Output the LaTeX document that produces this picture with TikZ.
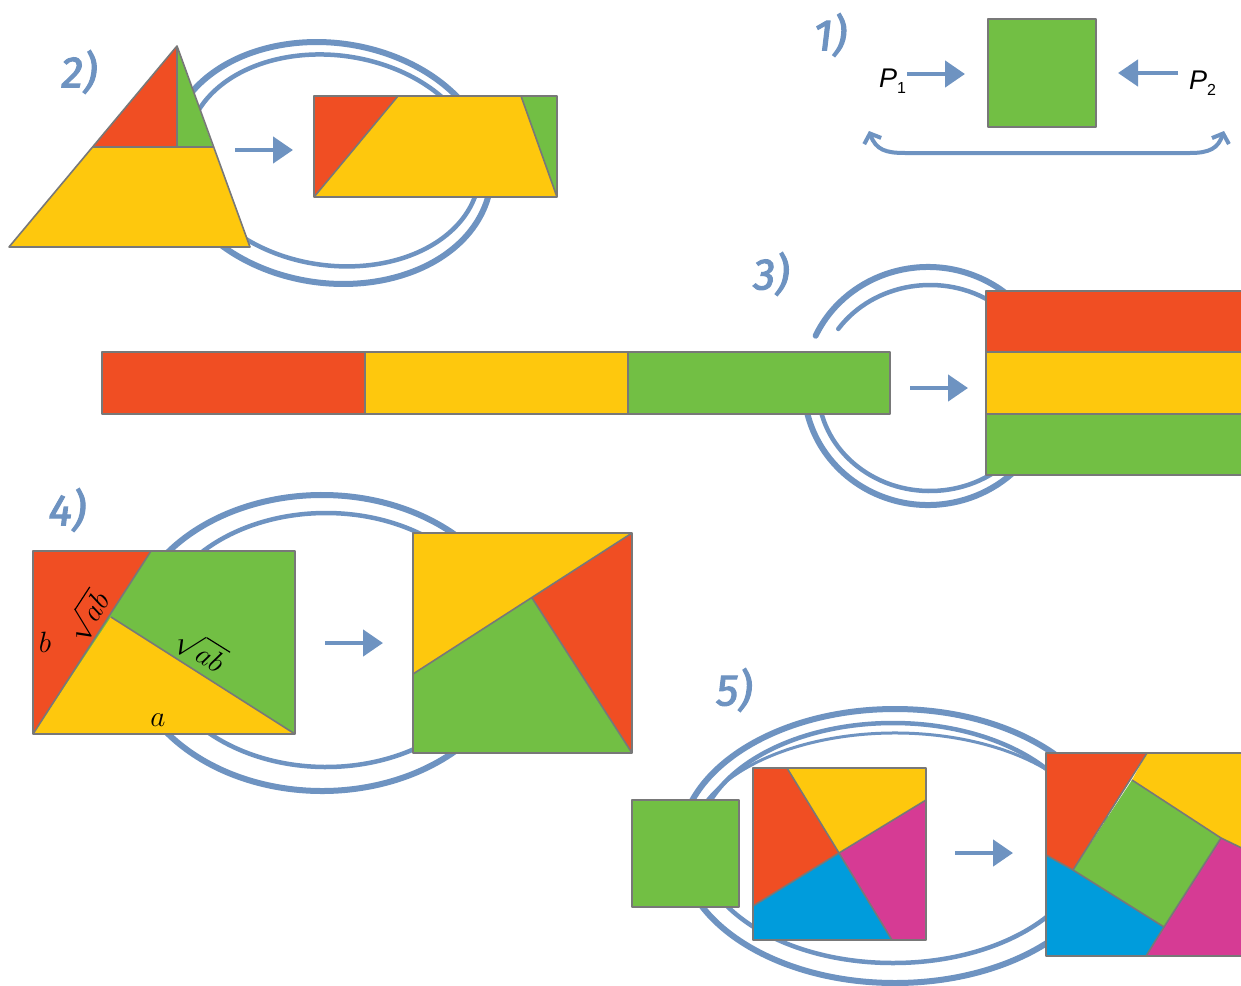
\documentclass[tikz,border=0pt]{standalone}
\usepackage{fontspec}
\newfontfamily\arialf{Liberation Sans}
\newfontfamily\lblf[FakeBold=2.5,FakeSlant=0.12]{Fira Sans}
\usetikzlibrary{arrows.meta}
\definecolor{cred}{HTML}{F04E23}
\definecolor{cyel}{HTML}{FEC80D}
\definecolor{cgrn}{HTML}{72BF44}
\definecolor{cblu}{HTML}{009CDC}
\definecolor{cmag}{HTML}{D63B94}
\definecolor{stroke}{HTML}{6E93C1}
\definecolor{edge}{HTML}{787878}
\begin{document}
\begin{tikzpicture}[x=1pt,y=-1pt,
  piece/.style={draw=edge,line width=1.6pt,line join=round},
  loopA/.style={draw=stroke,line width=6pt,line cap=round},
  loopB/.style={draw=stroke,line width=4.5pt,line cap=round},
  fat/.style={draw=stroke,line width=4.5pt,-{Triangle[length=20pt,width=26pt]}},
  barb/.style={draw=stroke,line width=4pt,{Straight Barb[length=8pt,width=18pt]}-{Straight Barb[length=8pt,width=18pt]}},
  lbl/.style={text=stroke,font=\lblf\fontsize{44}{44}\selectfont,inner sep=0pt},
  pl/.style={font=\arialf\fontsize{27}{27}\selectfont,inner sep=0pt},
  mth/.style={font=\fontsize{24}{24}\selectfont,inner sep=0pt,scale=1.18}]
\useasboundingbox (0,0) rectangle (1241,985);
\fill[white] (0,0) rectangle (1241,985);

% ---------- loops (behind shapes) ----------
% section 2
\begin{scope}[rotate around={-8:(330,163)}]
\draw[loopA] (330,163) ++(196:162 and 120) arc[start angle=196,end angle=500,x radius=162,y radius=120];
\draw[loopB] (333,160) ++(193:147 and 105) arc[start angle=193,end angle=488,x radius=147,y radius=105];
\end{scope}
% section 3
\draw[loopA] (928,386) ++(205:124 and 119) arc[start angle=205,end angle=530,x radius=124,y radius=119];
\draw[loopB] (930,388) ++(215:112 and 103) arc[start angle=215,end angle=530,x radius=112,y radius=103];
% section 4
\draw[loopA] (322,643) ++(215:195 and 148) arc[start angle=215,end angle=505,x radius=195,y radius=148];
\draw[loopB] (326,640) ++(222:172 and 127) arc[start angle=222,end angle=495,x radius=172,y radius=127];
% section 5
\draw[loopA] (895,846) ellipse[x radius=215,y radius=137];
\draw[loopB] (893,843) ellipse[x radius=195,y radius=120];
\draw[draw=stroke,line width=3pt,line cap=round] (895,845) ++(200:205 and 112) arc[start angle=200,end angle=335,x radius=205,y radius=112];

% ---------- labels ----------
\node[lbl] (l1) at (829,35) {1)};
\node[lbl] (l2) at (78,72) {2)};
\node[lbl] (l3) at (770,274) {3)};
\node[lbl] (l4) at (66,510) {4)};
\node[lbl] (l5) at (733,690) {5)};

% ---------- section 1 ----------
\fill[cgrn] (988,19) rectangle (1096,127);
\draw[piece] (988,19) rectangle (1096,127);
\node[pl,anchor=base west] (p1) at (879,87) {\itshape P\upshape\raisebox{-6pt}{\fontsize{16}{16}\selectfont 1}};
\node[pl,anchor=base west] (p2) at (1189,89) {\itshape P\upshape\raisebox{-6pt}{\fontsize{16}{16}\selectfont 2}};
\coordinate (a1s) at (907,74); \coordinate (a1e) at (965,74);
\coordinate (a2s) at (1178,73); \coordinate (a2e) at (1118,73);
\draw[fat] (a1s) -- (a1e);
\draw[fat] (a2s) -- (a2e);
\coordinate (bl) at (869,131); \coordinate (br) at (1224,131);
\draw[barb] (bl) .. controls (876,150) and (886,153) .. (905,153) -- (1190,153) .. controls (1210,153) and (1218,148) .. (br);

% ---------- section 2 ----------
\fill[cyel] (93,147) -- (213,147) -- (250,247) -- (9,247) -- cycle;
\fill[cred] (177,46) -- (93,147) -- (177,147) -- cycle;
\fill[cgrn] (177,46) -- (177,147) -- (213,147) -- cycle;
\draw[piece] (177,46) -- (250,247) -- (9,247) -- cycle;
\draw[piece] (93,147) -- (213,147) (177,46) -- (177,147);
\coordinate (a2a) at (235,150); \coordinate (a2b) at (293,150);
\draw[fat] (a2a) -- (a2b);
\fill[cyel] (314,96) rectangle (557,197);
\fill[cred] (314,96) -- (398,96) -- (314,197) -- cycle;
\fill[cgrn] (521,96) -- (557,96) -- (557,197) -- cycle;
\draw[piece] (398,96) -- (314,197) (521,96) -- (557,197);
\draw[piece] (314,96) rectangle (557,197);

% ---------- section 3 ----------
\fill[cred] (102,352) rectangle (365,414);
\fill[cyel] (365,352) rectangle (628,414);
\fill[cgrn] (628,352) rectangle (890,414);
\draw[piece] (102,352) rectangle (890,414) (365,352) -- (365,414) (628,352) -- (628,414);
\coordinate (a3a) at (910,388); \coordinate (a3b) at (968,388);
\draw[fat] (a3a) -- (a3b);
\fill[cred] (986,291) rectangle (1250,352);
\fill[cyel] (986,352) rectangle (1250,414);
\fill[cgrn] (986,414) rectangle (1250,475);
\draw[piece] (986,291) rectangle (1250,475) (986,352) -- (1250,352) (986,414) -- (1250,414);

% ---------- section 4 ----------
\fill[cgrn] (33,551) rectangle (295,734);
\fill[cred] (33,551) -- (151,551) -- (33,734) -- cycle;
\fill[cyel] (111,617) -- (295,734) -- (33,734) -- cycle;
\draw[piece] (151,551) -- (33,734) (111,617) -- (295,734);
\draw[piece] (33,551) rectangle (295,734);
\node[mth] (tb) at (45,642) {$b$};
\node[mth,rotate=57] (tr1) at (87,616) {$\sqrt{ab}$};
\node[mth,rotate=-32] (tr2) at (201,650) {$\sqrt{ab}$};
\node[mth] (ta) at (158,720) {$a$};
\coordinate (a4a) at (325,643); \coordinate (a4b) at (383,643);
\draw[fat] (a4a) -- (a4b);
\fill[cgrn] (413,533) rectangle (632,753);
\fill[cyel] (413,533) -- (632,533) -- (413,674) -- cycle;
\fill[cred] (632,533) -- (632,753) -- (532,598) -- cycle;
\draw[piece] (632,533) -- (413,674) (532,598) -- (632,753);
\draw[piece] (413,533) rectangle (632,753);

% ---------- section 5 ----------
\fill[cgrn] (632,800) rectangle (739,907);
\draw[piece] (632,800) rectangle (739,907);
\coordinate (C) at (839,853);
\fill[cred] (753,768) -- (787,768) -- (C) -- (753,906) -- cycle;
\fill[cyel] (787,768) -- (926,768) -- (926,800) -- (C) -- cycle;
\fill[cmag] (C) -- (926,800) -- (926,940) -- (892,940) -- cycle;
\fill[cblu] (753,906) -- (C) -- (892,940) -- (753,940) -- cycle;
\draw[piece] (787,768) -- (C) -- (892,940) (753,906) -- (C) -- (926,800);
\draw[piece] (753,768) rectangle (926,940);
\coordinate (a5a) at (955,853); \coordinate (a5b) at (1013,853);
\draw[fat] (a5a) -- (a5b);
\coordinate (G1) at (1132,780); \coordinate (G2) at (1221,838);
\coordinate (G3) at (1164,927); \coordinate (G4) at (1073,870);
\fill[cred] (1046,753) -- (1147,753) -- (G4) -- (1046,855) -- cycle;
\fill[cyel] (1147,753) -- (1250,753) -- (1250,852) -- (G2) -- (G1) -- cycle;
\fill[cmag] (G2) -- (1250,852) -- (1250,956) -- (1146,956) -- (G3) -- cycle;
\fill[cblu] (1046,855) -- (G4) -- (G3) -- (1146,956) -- (1046,956) -- cycle;
\fill[cgrn] (G1) -- (G2) -- (G3) -- (G4) -- cycle;
\draw[piece] (1147,753) -- (G4) -- (1046,855) (G1) -- (G2) -- (1250,852) (G2) -- (G3) -- (1146,956) (G3) -- (G4);
\draw[piece] (1046,753) rectangle (1250,956);
\end{tikzpicture}
\end{document}
